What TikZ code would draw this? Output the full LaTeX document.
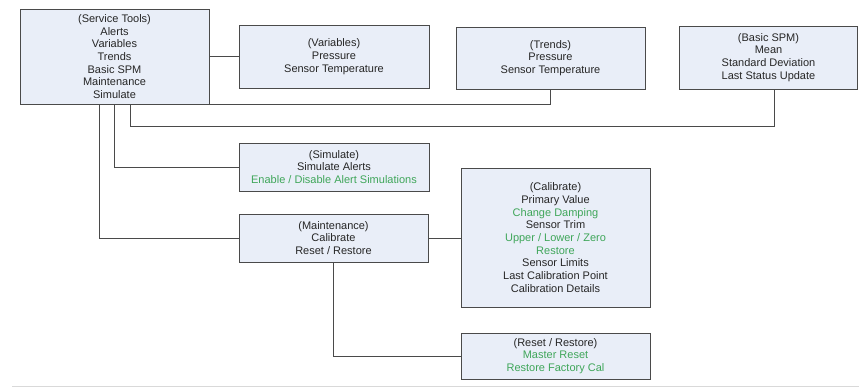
\documentclass[tikz,border=0pt]{standalone}
\usepackage{fontspec}
\setmainfont{Liberation Sans}
\definecolor{boxfill}{HTML}{E9EEF8}
\definecolor{boxline}{HTML}{4A4A4A}
\definecolor{textgray}{HTML}{262626}
\definecolor{optgreen}{HTML}{3FA65A}
\newcommand{\opt}[1]{\textcolor{optgreen}{#1}}
\tikzset{
  menu/.style={draw=boxline, fill=boxfill, line width=1pt, align=center,
    text=textgray, font=\fontsize{11}{12.7}\selectfont, inner sep=0pt},
  link/.style={draw=boxline, line width=1pt}
}
\begin{document}
\begin{tikzpicture}[x=1pt,y=-1pt]
\useasboundingbox (0,0) rectangle (859,389);
\node[menu, minimum width=189pt, minimum height=95pt] (st) at (114.5,56.5)
  {(Service Tools)\\Alerts\\Variables\\Trends\\Basic SPM\\Maintenance\\Simulate};
\node[menu, minimum width=190pt, minimum height=63pt] (var) at (334,56.5)
  {(Variables)\\Pressure\\Sensor Temperature};
\node[menu, minimum width=189pt, minimum height=62pt] (trends) at (550.5,58)
  {(Trends)\\Pressure\\Sensor Temperature};
\node[menu, minimum width=178pt, minimum height=63pt] (bspm) at (768.5,57.5)
  {(Basic SPM)\\Mean\\Standard Deviation\\Last Status Update};
\node[menu, minimum width=190pt, minimum height=48pt] (sim) at (334,167)
  {(Simulate)\\Simulate Alerts\\\opt{Enable / Disable Alert Simulations}};
\node[menu, minimum width=189pt, minimum height=48pt] (maint) at (333.5,238)
  {(Maintenance)\\Calibrate\\Reset / Restore};
\node[menu, minimum width=189pt, minimum height=139pt] (cal) at (555.5,237.5)
  {(Calibrate)\\Primary Value\\\opt{Change Damping}\\Sensor Trim\\\opt{Upper / Lower / Zero}\\\opt{Restore}\\Sensor Limits\\Last Calibration Point\\Calibration Details};
\node[menu, minimum width=189pt, minimum height=46pt] (reset) at (555.5,356)
  {(Reset / Restore)\\\opt{Master Reset}\\\opt{Restore Factory Cal}};
\coordinate (spm_bend) at (130,126);
% links from the service tools menu
\draw[link] (st) -- (var);
\draw[link] (st.south east) -| (trends.south);
\draw[link] (st.south -| spm_bend) -- (spm_bend) -| ([xshift=6pt]bspm.south);
\draw[link] (st.south) |- (sim.west);
\draw[link] ([xshift=-15.5pt]st.south) |- (maint.west);
% links from the maintenance menu
\draw[link] (maint.east) -- (maint.east -| cal.west);
\draw[link] (maint.south) |- (reset.west);
\draw[gray!30, line width=1pt] (12,386) -- (859,386);
\end{tikzpicture}
\end{document}
